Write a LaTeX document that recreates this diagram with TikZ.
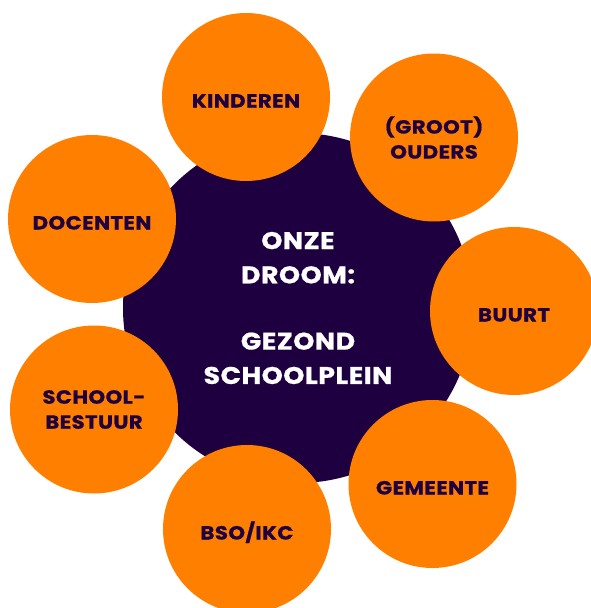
\documentclass[tikz,border=0pt]{standalone}
\usepackage{fontspec}
\setmainfont{Poppins}[FakeStretch=1.12, LetterSpace=2, FakeBold=0.8]
\definecolor{oranje}{RGB}{255, 128, 0}
\definecolor{paars}{RGB}{30, 0, 64}

\begin{document}
\begin{tikzpicture}[
x=1pt, y=-1pt,
droom/.style={circle, fill=paars, minimum size=350pt, inner sep=0pt, text=white, align=center, font=\bfseries\fontsize{24}{34.3}\selectfont},
groep/.style={circle, fill=oranje, minimum size=168pt, inner sep=0pt, text=paars, align=center, font=\bfseries\fontsize{19}{25}\selectfont},
enkel/.style={groep, text height=21pt, text depth=0pt}
]
\useasboundingbox (0,0) rectangle (591,608);

% Define nodes
\node (dream) [droom] at (298,308) {ONZE\\DROOM:\\[32pt]GEZOND\\SCHOOLPLEIN};

% Orange circles
\node (kinderen) [enkel] at (246,97) {KINDEREN};
\node (ouders) [groep] at (434,137.5) {(GROOT)\\OUDERS};
\node (buurt) [enkel] at (514,311) {BUURT};
\node (gemeente) [enkel] at (432.5,484) {GEMEENTE};
\node (bso) [enkel] at (247,529) {BSO/IKC};
\node (bestuur) [groep] at (94,409.5) {SCHOOL-\\BESTUUR};
\node (docenten) [enkel] at (92,219) {DOCENTEN};

\end{tikzpicture}
\end{document}
